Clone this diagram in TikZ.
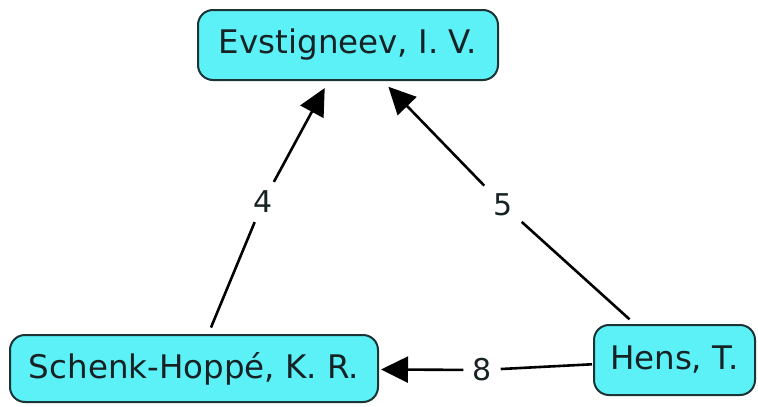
\documentclass[tikz,border=0pt]{standalone}
\usepackage{fontspec}
\setmainfont{DejaVu Sans}
\usetikzlibrary{arrows.meta}
\definecolor{boxfill}{HTML}{5CF0F7}
\definecolor{boxline}{HTML}{1C3436}
\definecolor{ink}{HTML}{162224}
\begin{document}
\begin{tikzpicture}[x=1pt,y=-1pt,
  concept/.style={draw=boxline, line width=2pt, fill=boxfill, rounded corners=15pt,
    inner sep=0pt, text=ink, font=\fontsize{32.5}{38}\selectfont},
  linklabel/.style={inner sep=9pt, text=ink, font=\fontsize{30}{34}\selectfont},
  link/.style={line width=2.6pt, black},
  linkarrow/.style={link, -{Triangle[length=27pt,width=26pt]}}
]
\useasboundingbox (0,0) rectangle (758,407);

% concepts
\node[concept, minimum width=300pt, minimum height=70pt] (ev) at (348,45) {Evstigneev, I. V.};
\node[concept, minimum width=368pt, minimum height=67pt] (sh) at (194,368.5) {Schenk-Hoppé, K. R.};
\node[concept, minimum width=161pt, minimum height=70pt] (hens) at (674.5,360) {Hens, T.};

% link labels
\node[linklabel] (l4) at (263,202) {4};
\node[linklabel] (l5) at (503,205) {5};
\node[linklabel] (l8) at (482,370) {8};

% links: source -> label -> target
\draw[link, shorten <=7pt] (sh) -- (l4);
\draw[linkarrow, shorten >=8pt] (l4) -- (ev);
\draw[link, shorten <=7pt] (hens) -- (l5);
\draw[linkarrow, shorten >=8pt] (l5) -- (ev);
\draw[link, shorten <=1pt] (hens) -- (l8);
\draw[linkarrow, shorten >=2pt] (l8) -- (sh);
\end{tikzpicture}
\end{document}
